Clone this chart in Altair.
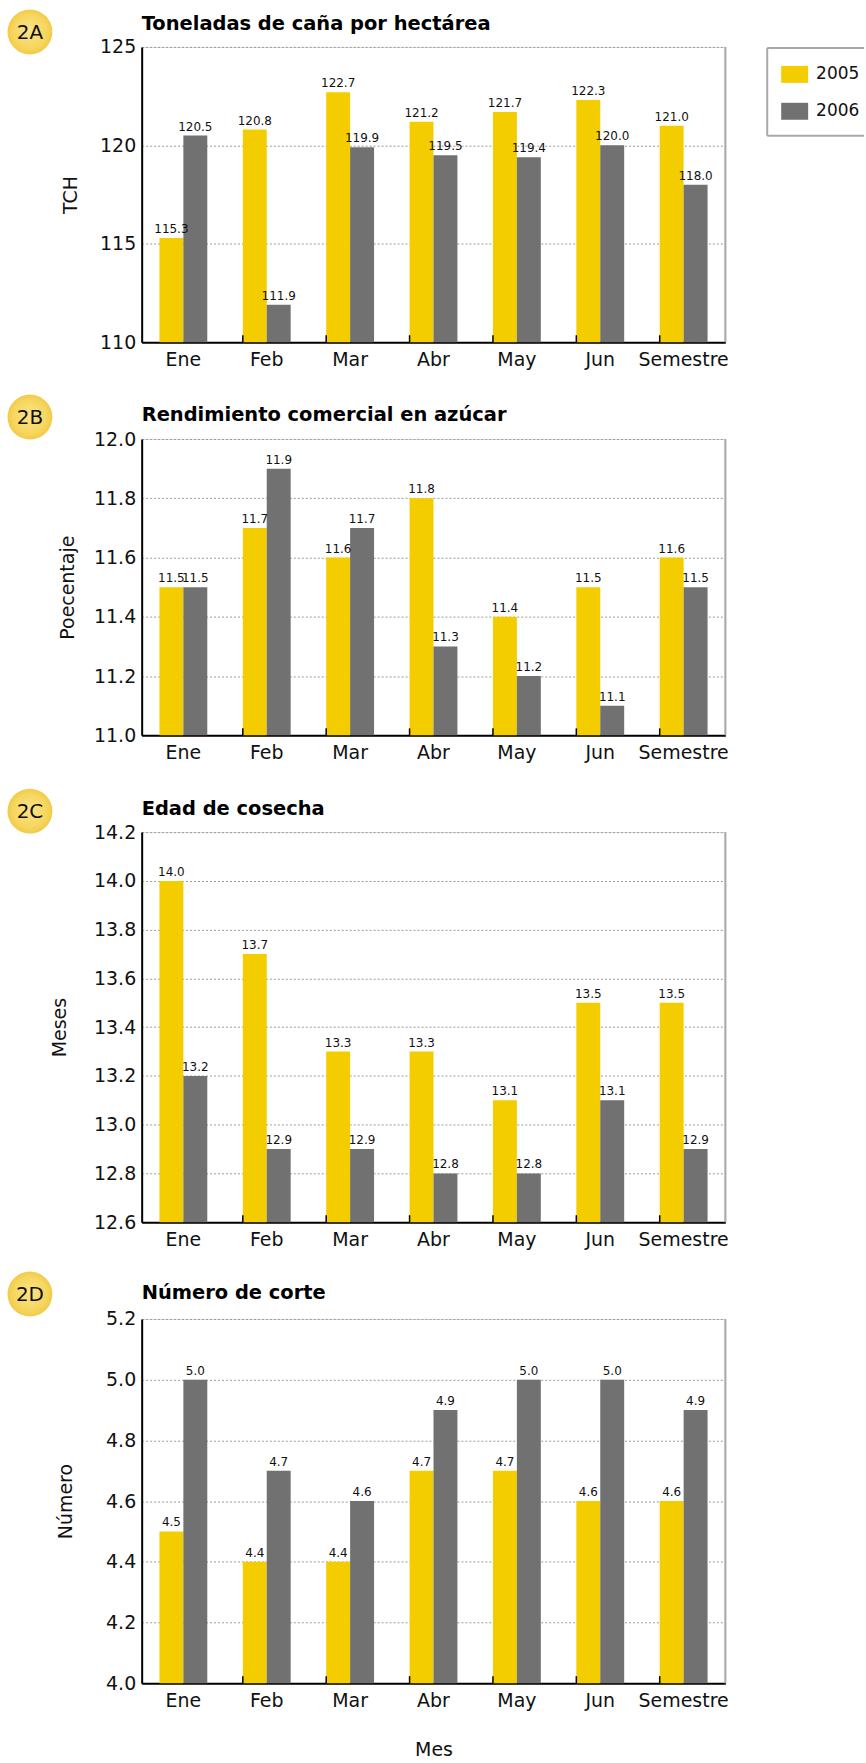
import altair as alt
import pandas as pd

# Categorías y series
meses = ["Ene", "Feb", "Mar", "Abr", "May", "Jun", "Semestre"]
anios = ["2005", "2006"]

tch_2005 = [115.3, 120.8, 122.7, 121.2, 121.7, 122.3, 121.0]
tch_2006 = [120.5, 111.9, 119.9, 119.5, 119.4, 120.0, 118.0]

rend_2005 = [11.5, 11.7, 11.6, 11.8, 11.4, 11.5, 11.6]
rend_2006 = [11.5, 11.9, 11.7, 11.3, 11.2, 11.1, 11.5]

edad_2005 = [14.0, 13.7, 13.3, 13.3, 13.1, 13.5, 13.5]
edad_2006 = [13.2, 12.9, 12.9, 12.8, 12.8, 13.1, 12.9]

corte_2005 = [4.5, 4.4, 4.4, 4.7, 4.7, 4.6, 4.6]
corte_2006 = [5.0, 4.7, 4.6, 4.9, 5.0, 5.0, 4.9]

# Marcas del eje Y de cada panel
tch_ticks = [110, 115, 120, 125]
rend_ticks = [11.0, 11.2, 11.4, 11.6, 11.8, 12.0]
edad_ticks = [12.6, 12.8, 13.0, 13.2, 13.4, 13.6, 13.8, 14.0, 14.2]
corte_ticks = [4.0, 4.2, 4.4, 4.6, 4.8, 5.0, 5.2]

FONT = "DejaVu Sans"
AMARILLO = "#F4CD00"
GRIS = "#717171"
TEXTO = "#111111"
W = 585

insignia_fill = {
    "gradient": "radial",
    "x1": 0.5, "y1": 0.45, "r1": 0.0,
    "x2": 0.5, "y2": 0.5, "r2": 0.5,
    "stops": [
        {"offset": 0.0, "color": "#FBE48A"},
        {"offset": 0.75, "color": "#F6D65E"},
        {"offset": 1.0, "color": "#F1CB48"},
    ],
}

leyenda = alt.Legend(
    orient="none", legendX=646, legendY=19, padding=0, title=None,
    direction="vertical",
    symbolType="M-1.59,-1H1.59V1H-1.59Z", symbolSize=289,
    symbolStrokeWidth=0, symbolOpacity=1,
    labelFont=FONT, labelFontSize=17, labelColor=TEXTO,
    labelOffset=13, rowPadding=19,
)


def uno(**kw):
    return pd.DataFrame({k: [v] for k, v in kw.items()})


def panel(v05, v06, ticks, fmt, ytitulo, ytitulo_x, insignia, insignia_y,
          titulo, titulo_y, h, xtitulo=None, con_leyenda=False):
    df = pd.DataFrame({
        "mes": meses * 2,
        "anio": [anios[0]] * len(meses) + [anios[1]] * len(meses),
        "valor": list(v05) + list(v06),
    })

    xscale = alt.Scale(domain=meses, paddingInner=0.426, paddingOuter=0.213)
    xaxis_kw = dict(
        ticks=False, grid=False, domainColor="#000000", domainWidth=2,
        labelFont=FONT, labelFontSize=19, labelColor=TEXTO, labelAngle=0,
        labelPadding=8,
    )
    if xtitulo:
        xaxis_kw.update(titleFont=FONT, titleFontSize=19, titleFontWeight="normal",
                        titleColor=TEXTO, titleY=67, titleBaseline="middle")
    xaxis = alt.Axis(**xaxis_kw)
    x = alt.X("mes:N", scale=xscale, axis=xaxis, title=xtitulo)

    y = alt.Y(
        "valor:Q",
        stack=None,
        scale=alt.Scale(domain=[ticks[0], ticks[-1]], zero=False, nice=False),
        axis=alt.Axis(
            values=ticks, format=fmt, ticks=False, labelFlush=False,
            domainColor="#000000", domainWidth=2,
            grid=True, gridColor="#9a9a9a", gridDash=[2, 2], gridWidth=1,
            labelFont=FONT, labelFontSize=19, labelColor=TEXTO, labelPadding=6,
            titleFont=FONT, titleFontSize=19, titleFontWeight="normal",
            titleColor=TEXTO, titleX=ytitulo_x, titleY=h / 2, titleAngle=270,
            titleAlign="center", titleBaseline="middle",
        ),
        title=ytitulo,
    )
    xoff = alt.XOffset("anio:N", sort=anios,
                       scale=alt.Scale(paddingInner=0, paddingOuter=0))
    color = alt.Color(
        "anio:N", scale=alt.Scale(domain=anios, range=[AMARILLO, GRIS]),
        legend=leyenda if con_leyenda else None,
    )

    base = alt.Chart(df)
    # las barras nacen en el borde inferior del área de trazado
    barras = base.mark_bar().encode(
        x=x, y=y, y2=alt.value(h), xOffset=xoff, color=color
    )
    valores = base.mark_text(
        font=FONT, fontSize=12, color=TEXTO, baseline="alphabetic", dy=-5
    ).encode(x=x, y=y, xOffset=xoff, text=alt.Text("valor:Q", format=".1f"))

    # marcas cortas hacia arriba entre categorías
    divisiones = alt.Chart(pd.DataFrame({"mes": meses[1:]})).mark_rule(
        color="#000000", strokeWidth=1.5
    ).encode(
        x=alt.X("mes:N", bandPosition=0, scale=xscale, axis=xaxis, title=xtitulo),
        y=alt.value(h - 7), y2=alt.value(h),
    )

    borde_der = alt.Chart(uno(k=0)).mark_rule(color="#a8a8a8", strokeWidth=2).encode(
        x=alt.value(W), y=alt.value(0), y2=alt.value(h)
    )

    circulo = alt.Chart(uno(t=insignia)).mark_circle(
        size=2025, opacity=1, fill=insignia_fill
    ).encode(x=alt.value(-112), y=alt.value(insignia_y))
    circulo_txt = alt.Chart(uno(t=insignia)).mark_text(
        font=FONT, fontSize=20, color=TEXTO, align="center", baseline="middle"
    ).encode(x=alt.value(-112), y=alt.value(insignia_y + 1), text="t:N")

    encabezado = alt.Chart(uno(t=titulo)).mark_text(
        font=FONT, fontSize=19.5, fontWeight="bold", color="#000000",
        align="left", baseline="middle"
    ).encode(x=alt.value(0), y=alt.value(titulo_y), text="t:N")

    capas = [barras, valores, divisiones, borde_der, circulo, circulo_txt, encabezado]

    if con_leyenda:
        caja = alt.Chart(uno(k=0))
        gris_caja = dict(color="#a8a8a8", strokeWidth=2)
        capas += [
            caja.mark_rule(**gris_caja).encode(x=alt.value(627), x2=alt.value(724),
                                               y=alt.value(1), y2=alt.value(1)),
            caja.mark_rule(**gris_caja).encode(x=alt.value(627), x2=alt.value(724),
                                               y=alt.value(89), y2=alt.value(89)),
            caja.mark_rule(**gris_caja).encode(x=alt.value(627), x2=alt.value(627),
                                               y=alt.value(1), y2=alt.value(89)),
            # ancla del margen superior izquierdo de la figura
            caja.mark_rect(opacity=0).encode(x=alt.value(-141), x2=alt.value(-140),
                                             y=alt.value(-44), y2=alt.value(-43)),
        ]

    return alt.layer(*capas).properties(width=W, height=h)


pA = panel(tch_2005, tch_2006, tch_ticks, "d", "TCH", -71, "2A", -15,
           "Toneladas de caña por hectárea", -23, 296, con_leyenda=True)
pB = panel(rend_2005, rend_2006, rend_ticks, ".1f", "Poecentaje", -74, "2B", -22,
           "Rendimiento comercial en azúcar", -24, 297)
pC = panel(edad_2005, edad_2006, edad_ticks, ".1f", "Meses", -82, "2C", -21,
           "Edad de cosecha", -23, 391)
pD = panel(corte_2005, corte_2006, corte_ticks, ".1f", "Número", -76, "2D", -25,
           "Número de corte", -26, 365, xtitulo="Mes")

chart = alt.vconcat(pA, pB, pC, pD, spacing=97, bounds="flush").resolve_scale(
    x="independent", y="independent", color="independent"
).resolve_legend(color="independent").properties(
    padding=0, background="#ffffff"
).configure_view(strokeWidth=0).configure(font=FONT)

chart.save("out.html", embed_options={"renderer": "svg", "actions": False})
